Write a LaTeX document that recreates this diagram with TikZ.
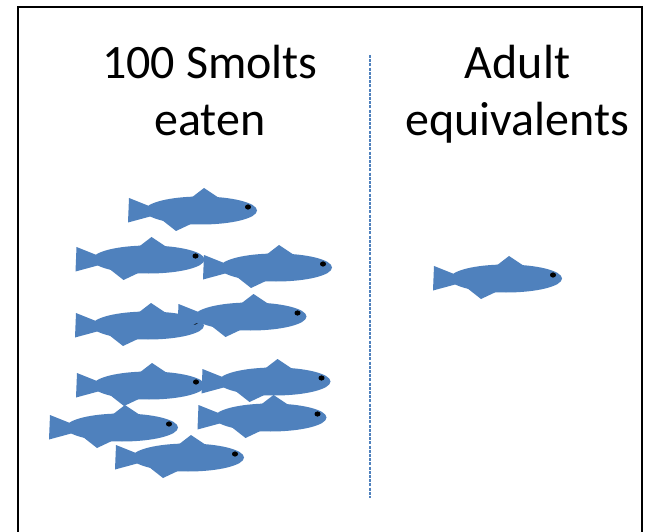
\documentclass[tikz,border=0pt]{standalone}
\usepackage{fontspec}
\setmainfont{Carlito}
\definecolor{fishblue}{HTML}{4F81BD}
\tikzset{
  x=1pt,y=-1pt,
  fishfill/.style={fill=fishblue,draw=none},
  titletext/.style={font=\fontsize{48}{57}\selectfont,align=center,text=black,inner sep=0pt},
  pics/salmon/.style={code={
    \fill[fishfill] (129,198) -- (149,206) -- (158,211) -- (152,216) -- (128,222.5) -- cycle;
    \fill[fishfill] (201,210.5) ellipse [x radius=56,y radius=14];
    \fill[fishfill] (191,198) -- (204,188) -- (219,198) -- cycle;
    \fill[fishfill] (162,220) -- (176,231) -- (193,223) -- cycle;
    \fill[black] (248,207) ellipse [x radius=3,y radius=2.6];
  }}
}
\begin{document}
\begin{tikzpicture}
\useasboundingbox (0,0) rectangle (646,532);
\fill[white] (0,0) rectangle (646,532);
\draw[line width=2.4pt,black] (18,540) -- (18,7) -- (642,7) -- (642,540);
\node[titletext] (left) at (210,95.5) {\strut 100 Smolts\\\strut eaten};
\node[titletext] (right) at (517.5,95.5) {\strut Adult\\\strut equivalents};
\coordinate (divtop) at (370,55);
\coordinate (divbottom) at (370,498);
\draw[fishblue,line width=1.5pt,dash pattern=on 3pt off 1.2pt] (divtop) -- (divbottom);
\foreach \dx/\dy in {0/0,-52.5/49,75/57,-53/115,49.5/106,-52/175,73.5/171,-79/217,69.5/207,-13/247,305/68}
  \pic at (\dx,\dy) {salmon};
\end{tikzpicture}
\end{document}
